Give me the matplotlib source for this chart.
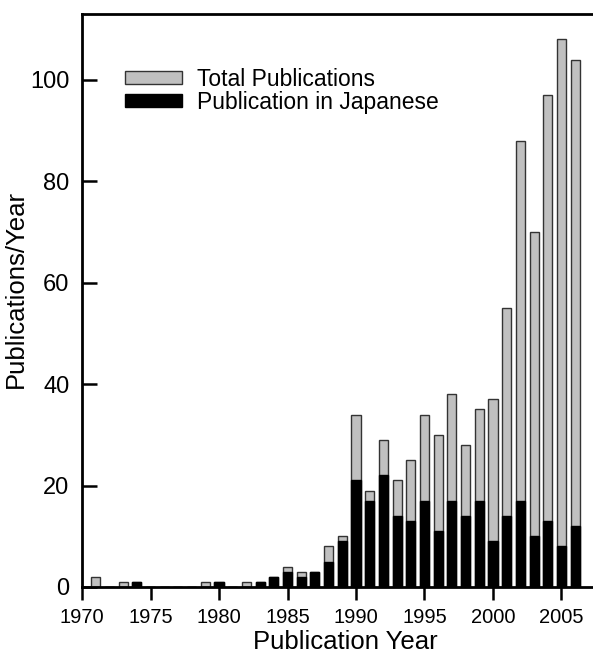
import numpy as np
import matplotlib
matplotlib.use('Agg')
import matplotlib.pyplot as plt

plt.rcParams['font.family'] = ['Liberation Sans', 'DejaVu Sans']

# Publications per year
years = [1971, 1972, 1973, 1974, 1975, 1976, 1977, 1978, 1979, 1980,
         1981, 1982, 1983, 1984, 1985, 1986, 1987, 1988, 1989, 1990,
         1991, 1992, 1993, 1994, 1995, 1996, 1997, 1998, 1999, 2000,
         2001, 2002, 2003, 2004, 2005, 2006]
total = [2, 0, 1, 1, 0, 0, 0, 0, 1, 1,
         0, 1, 1, 2, 4, 3, 3, 8, 10, 34,
         19, 29, 21, 25, 34, 30, 38, 28, 35, 37,
         55, 88, 70, 97, 108, 104]
japanese = [0, 0, 0, 1, 0, 0, 0, 0, 0, 1,
            0, 0, 1, 2, 3, 2, 3, 5, 9, 21,
            17, 22, 14, 13, 17, 11, 17, 14, 17, 9,
            14, 17, 10, 13, 8, 12]

fig = plt.figure(figsize=(5.93, 6.59), dpi=100)
ax = fig.add_axes([0.1383, 0.1093, 0.8617, 0.8695])

w = 0.66
ax.bar(years, total, width=w, color='#c0c0c0', edgecolor='#333333',
       linewidth=1.0, label='Total Publications', zorder=2)
ax.bar(years, japanese, width=w, color='black', edgecolor='black',
       linewidth=1.0, label='Publication in Japanese', zorder=3)

ax.set_xlim(1970, 2007.3)
ax.set_ylim(0, 113)
ax.set_xticks(np.arange(1970, 2006, 5))
ax.set_yticks(np.arange(0, 101, 20))
# y ticks point into the plot, x ticks point out
ax.tick_params(axis='x', direction='out', length=9.5, width=1.8,
               labelsize=14.5, pad=6)
ax.tick_params(axis='y', direction='in', length=10.5, width=1.8,
               labelsize=17, pad=9)

for side in ['left', 'bottom', 'top']:
    ax.spines[side].set_linewidth(2)
ax.spines['right'].set_visible(False)

ax.set_xlabel('Publication Year', fontsize=18.5)
ax.set_ylabel('Publications/Year', fontsize=18.5)
ax.xaxis.set_label_coords(0.515, -0.075)
ax.yaxis.set_label_coords(-0.105, 0.52)

ax.legend(loc='upper left', bbox_to_anchor=(0.084, 0.906), frameon=False,
          fontsize=16.5, handlelength=2.5, handleheight=0.48,
          handletextpad=0.65, labelspacing=0.0, borderpad=0,
          borderaxespad=0)

fig.savefig('out.png', dpi=100)
